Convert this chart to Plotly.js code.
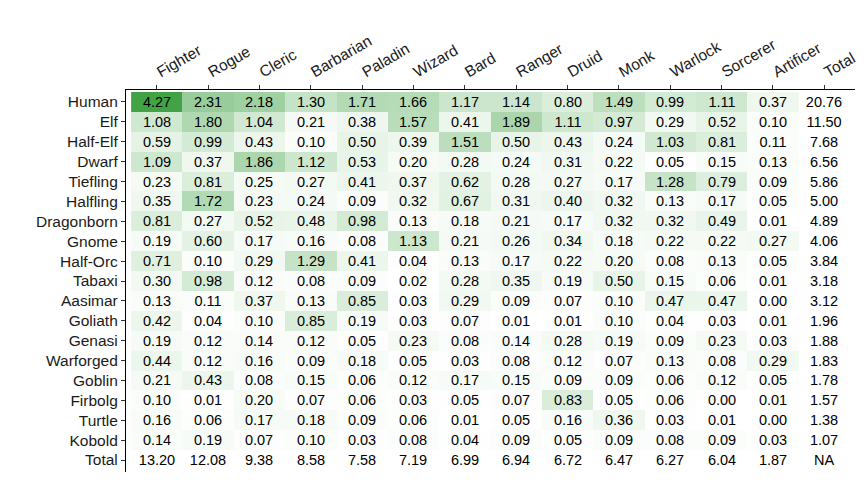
<!DOCTYPE html>
<html>
<head>
<meta charset="utf-8">
<script src="https://cdn.plot.ly/plotly-3.0.1.min.js"></script>
<style>html,body{margin:0;padding:0;background:#fff}#chart{width:864px;height:480px}</style>
</head>
<body>
<div id="chart"></div>
<script>
const classes = ["Fighter","Rogue","Cleric","Barbarian","Paladin","Wizard","Bard","Ranger","Druid","Monk","Warlock","Sorcerer","Artificer"];
const races = ["Human","Elf","Half-Elf","Dwarf","Tiefling","Halfling","Dragonborn","Gnome","Half-Orc","Tabaxi","Aasimar","Goliath","Genasi","Warforged","Goblin","Firbolg","Turtle","Kobold"];
const values = [
  [4.27,2.31,2.18,1.30,1.71,1.66,1.17,1.14,0.80,1.49,0.99,1.11,0.37],
  [1.08,1.80,1.04,0.21,0.38,1.57,0.41,1.89,1.11,0.97,0.29,0.52,0.10],
  [0.59,0.99,0.43,0.10,0.50,0.39,1.51,0.50,0.43,0.24,1.03,0.81,0.11],
  [1.09,0.37,1.86,1.12,0.53,0.20,0.28,0.24,0.31,0.22,0.05,0.15,0.13],
  [0.23,0.81,0.25,0.27,0.41,0.37,0.62,0.28,0.27,0.17,1.28,0.79,0.09],
  [0.35,1.72,0.23,0.24,0.09,0.32,0.67,0.31,0.40,0.32,0.13,0.17,0.05],
  [0.81,0.27,0.52,0.48,0.98,0.13,0.18,0.21,0.17,0.32,0.32,0.49,0.01],
  [0.19,0.60,0.17,0.16,0.08,1.13,0.21,0.26,0.34,0.18,0.22,0.22,0.27],
  [0.71,0.10,0.29,1.29,0.41,0.04,0.13,0.17,0.22,0.20,0.08,0.13,0.05],
  [0.30,0.98,0.12,0.08,0.09,0.02,0.28,0.35,0.19,0.50,0.15,0.06,0.01],
  [0.13,0.11,0.37,0.13,0.85,0.03,0.29,0.09,0.07,0.10,0.47,0.47,0.00],
  [0.42,0.04,0.10,0.85,0.19,0.03,0.07,0.01,0.01,0.10,0.04,0.03,0.01],
  [0.19,0.12,0.14,0.12,0.05,0.23,0.08,0.14,0.28,0.19,0.09,0.23,0.03],
  [0.44,0.12,0.16,0.09,0.18,0.05,0.03,0.08,0.12,0.07,0.13,0.08,0.29],
  [0.21,0.43,0.08,0.15,0.06,0.12,0.17,0.15,0.09,0.09,0.06,0.12,0.05],
  [0.10,0.01,0.20,0.07,0.06,0.03,0.05,0.07,0.83,0.05,0.06,0.00,0.01],
  [0.16,0.06,0.17,0.18,0.09,0.06,0.01,0.05,0.16,0.36,0.03,0.01,0.00],
  [0.14,0.19,0.07,0.10,0.03,0.08,0.04,0.09,0.05,0.09,0.08,0.09,0.03]
];
const raceTotals = [20.76,11.50,7.68,6.56,5.86,5.00,4.89,4.06,3.84,3.18,3.12,1.96,1.88,1.83,1.78,1.57,1.38,1.07];
const classTotals = [13.20,12.08,9.38,8.58,7.58,7.19,6.99,6.94,6.72,6.47,6.27,6.04,1.87];
const totalLabel = "Total";
const grandTotalText = "NA";

const xCats = classes.concat([totalLabel]);
const yCats = races.concat([totalLabel]);

const zMain = [], tMain = [], zTot = [], tTot = [];
for (let i = 0; i < yCats.length; i++) {
  const zr = [], tr = [], zt = [], tt = [];
  for (let j = 0; j < xCats.length; j++) {
    if (i < races.length && j < classes.length) {
      zr.push(values[i][j]); tr.push(values[i][j].toFixed(2));
      zt.push(null); tt.push("");
    } else {
      zr.push(null); tr.push("");
      let s;
      if (i < races.length) s = raceTotals[i].toFixed(2);
      else if (j < classes.length) s = classTotals[j].toFixed(2);
      else s = grandTotalText;
      zt.push(0); tt.push(s);
    }
  }
  zMain.push(zr); tMain.push(tr); zTot.push(zt); tTot.push(tt);
}

const cellFont = {family: "Liberation Sans, Arial, sans-serif", size: 14.5, color: "#000"};

const traces = [
  {
    type: "heatmap", x: xCats, y: yCats, z: zMain, text: tMain,
    texttemplate: "%{text}", textfont: cellFont,
    colorscale: [[0, "#ffffff"], [1, "rgb(65,163,70)"]],
    zmin: 0, zmax: 4.27, showscale: false, hoverinfo: "skip"
  },
  {
    type: "heatmap", x: xCats, y: yCats, z: zTot, text: tTot,
    texttemplate: "%{text}", textfont: cellFont,
    colorscale: [[0, "#ffffff"], [1, "#ffffff"]],
    zmin: 0, zmax: 1, showscale: false, hoverinfo: "skip"
  }
];

const layout = {
  width: 864, height: 480,
  margin: {l: 126, r: 9, t: 90, b: 8, pad: 0},
  paper_bgcolor: "#fff", plot_bgcolor: "#fff",
  font: {family: "Liberation Sans, Arial, sans-serif", color: "#1a1a1a"},
  xaxis: {
    type: "category", side: "top", range: [-0.6, 13.6],
    showline: true, linecolor: "#000", linewidth: 1.1,
    ticks: "outside", ticklen: 4, tickcolor: "#333", tickwidth: 1,
    tickangle: -30, tickfont: {size: 15.5, color: "#1a1a1a"},
    showgrid: false, zeroline: false, fixedrange: true
  },
  yaxis: {
    type: "category", range: [18.6, -0.6],
    showline: true, linecolor: "#000", linewidth: 1.1,
    ticks: "outside", ticklen: 4, tickcolor: "#333", tickwidth: 1,
    tickfont: {size: 15.5, color: "#1a1a1a"},
    showgrid: false, zeroline: false, fixedrange: true
  },
  showlegend: false
};

Plotly.newPlot("chart", traces, layout, {displayModeBar: false, staticPlot: true});
</script>
</body>
</html>
